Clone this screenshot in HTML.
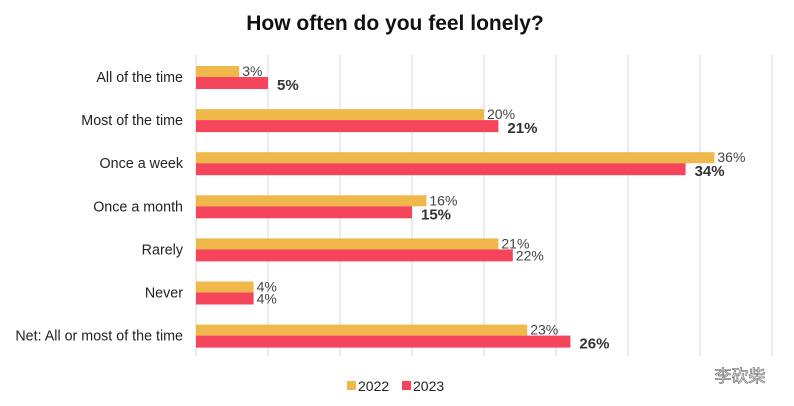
<!DOCTYPE html>
<html><head><meta charset="utf-8"><style>
body{margin:0;background:#fff;}
svg{display:block;font-family:"Liberation Sans",Arial,sans-serif;}
</style></head><body>
<svg width="794" height="406" viewBox="0 0 794 406">
<text x="395" y="30" text-anchor="middle" font-size="21" font-weight="bold" fill="#111">How often do you feel lonely?</text>
<g id="grid"></g><g id="bars"></g><g id="labels"></g>
<g>
<rect x="347" y="381" width="9" height="9" fill="#F0B84A"/>
<text x="358" y="391" font-size="14" fill="#222">2022</text>
<rect x="402" y="381" width="9" height="9" fill="#F5455C"/>
<text x="413" y="391" font-size="14" fill="#222">2023</text>
</g>
<text x="740" y="382" text-anchor="middle" font-size="17" fill="#fff" stroke="#777" stroke-width="0.7" font-family="'Liberation Sans','Noto Sans CJK SC',sans-serif">李砍柴</text>
</svg>
<script>
const categories=["All of the time","Most of the time","Once a week","Once a month","Rarely","Never","Net: All or most of the time"];
const values2022=[3,20,36,16,21,4,23];
const values2023=[5,21,34,15,22,4,26];
const bold2023=[true,true,true,true,false,false,true];
const ticks=[0,5,10,15,20,25,30,35,40];
const NS="http://www.w3.org/2000/svg";
const x=v=>196+v*14.4;
const yc=i=>77+i*43.1;
function mk(tag,attrs,parent){const e=document.createElementNS(NS,tag);for(const k in attrs)e.setAttribute(k,attrs[k]);document.getElementById(parent).appendChild(e);return e;}
ticks.forEach(t=>{const l=mk('line',{x1:x(t),x2:x(t),y1:55,y2:356,stroke:'#d9d9d9','stroke-width':1},'grid');

});
categories.forEach((c,i)=>{
const t=mk('text',{x:183,y:yc(i)+5,'text-anchor':'end','font-size':14.3,fill:'#222'},'labels');t.textContent=c;


const b1=mk('rect',{x:x(0),y:yc(i)-11,width:x(values2022[i])-x(0),height:11,fill:'#F0B84A'},'bars');


const b2=mk('rect',{x:x(0),y:yc(i),width:x(values2023[i])-x(0),height:12,fill:'#F5455C'},'bars');


const l1=mk('text',{x:x(values2022[i])+3,y:yc(i)-1,'font-size':14,fill:'#444'},'labels');l1.textContent=values2022[i]+'%';


const bd=bold2023[i];
const l2=mk('text',{x:x(values2023[i])+(bd?9:3),y:yc(i)+(bd?13:11),'font-size':bd?15:14,'font-weight':bd?'bold':'normal',fill:bd?'#333':'#444'},'labels');l2.textContent=values2023[i]+'%';


});
</script>
</body></html>
